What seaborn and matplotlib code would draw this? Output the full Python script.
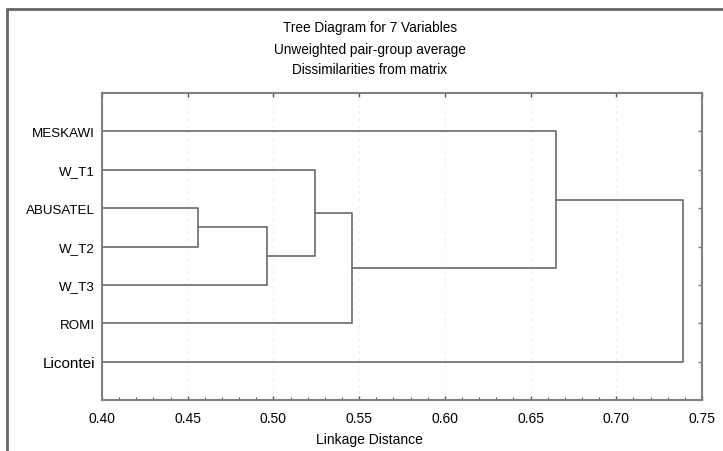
import matplotlib
matplotlib.use("Agg")
import matplotlib.pyplot as plt
from matplotlib.lines import Line2D
from matplotlib.ticker import MultipleLocator
import numpy as np
import pandas as pd
import seaborn as sns

# ---- data ----
leaves = ["MESKAWI", "W_T1", "ABUSATEL", "W_T2", "W_T3", "ROMI", "Licontei"]
# merges (scipy-like indexing: leaves 0..6, new clusters 7..)
merge_a = [2, 7, 1, 9, 0, 11]
merge_b = [3, 4, 8, 5, 10, 6]
merge_dist = [0.456, 0.496, 0.524, 0.546, 0.665, 0.739]
x_ticks = [0.40, 0.45, 0.50, 0.55, 0.60, 0.65, 0.70, 0.75]
title_lines = ["Tree Diagram for 7 Variables",
               "Unweighted pair-group average",
               "Dissimilarities from matrix"]
x_label = "Linkage Distance"

sns.set_style("white")
plt.rcParams["font.family"] = ["Liberation Sans", "DejaVu Sans"]
plt.rcParams["text.color"] = "black"
plt.rcParams["xtick.labelcolor"] = "black"
plt.rcParams["ytick.labelcolor"] = "black"
plt.rcParams["axes.labelcolor"] = "black"

# ---- build segments ----
base = x_ticks[0]
pos = {i: (base, float(i)) for i in range(len(leaves))}
rows = []
for k, (a, b, d) in enumerate(zip(merge_a, merge_b, merge_dist)):
    xa, ya = pos[a]
    xb, yb = pos[b]
    pts = [(xa, ya), (d, ya), (d, yb), (xb, yb)]
    for j, (px, py) in enumerate(pts):
        rows.append({"link": k, "order": j, "x": px, "y": py})
    pos[len(leaves) + k] = (d, (ya + yb) / 2.0)
seg = pd.DataFrame(rows)

fig = plt.figure(figsize=(7.23, 4.52), dpi=100)
W, H = 723, 452
ax = fig.add_axes([102 / W, 1 - 401 / H, 600 / W, 307 / H])

sns.lineplot(data=seg, x="x", y="y", units="link", sort=False,
             estimator=None, color="#6a6a6a", lw=1.2, ax=ax, legend=False)

ax.set_xlim(x_ticks[0], x_ticks[-1])
ax.set_ylim(len(leaves), -1)
ax.set_xticks(x_ticks)
ax.set_xticklabels([f"{t:.2f}" for t in x_ticks], fontsize=10)
ax.xaxis.set_minor_locator(MultipleLocator(0.01))
ax.set_yticks(range(len(leaves)))
ax.set_yticklabels(leaves)
for i, lab in enumerate(ax.get_yticklabels()):
    lab.set_fontsize(11 if leaves[i] == "Licontei" else 9.6)
    lab.set_color("black")
for lab in ax.get_xticklabels():
    lab.set_color("black")

ax.tick_params(axis="x", which="major", direction="in", length=3, width=1,
               color="#555555", pad=8, top=True, bottom=True)
ax.tick_params(axis="x", which="minor", direction="in", length=2, width=0.8,
               color="#555555", top=False, bottom=True)
ax.tick_params(axis="y", which="major", direction="in", length=3, width=1,
               color="#777777", left=False, right=True, pad=5)

for s in ax.spines.values():
    s.set_color("#808080")
    s.set_linewidth(1.5)
    s.set_visible(True)

ax.grid(axis="x", which="major", ls=(0, (1, 5)), color="#dddddd", lw=0.8)
ax.grid(axis="y", visible=False)
ax.set_axisbelow(True)

ax.set_xlabel(x_label, fontsize=10, color="black")
ax.set_ylabel("")
ax.xaxis.set_label_coords((369 - 102) / 600, (401 - 440) / 307)
ax.xaxis.label.set_va("center")

for txt, yy in zip(title_lines, [28, 50, 70]):
    fig.text(370 / W, 1 - yy / H, txt, ha="center", va="center",
             fontsize=9.8, color="black")

# outer frame (only left and top edges are within the image)
fig.add_artist(Line2D([7 / W, 7 / W], [0, 1 - 9.5 / H], color="#666666", lw=2,
                      transform=fig.transFigure))
fig.add_artist(Line2D([7 / W, 1], [1 - 9.5 / H, 1 - 9.5 / H], color="#666666",
                      lw=2, transform=fig.transFigure))

fig.savefig("out.png", dpi=100)
